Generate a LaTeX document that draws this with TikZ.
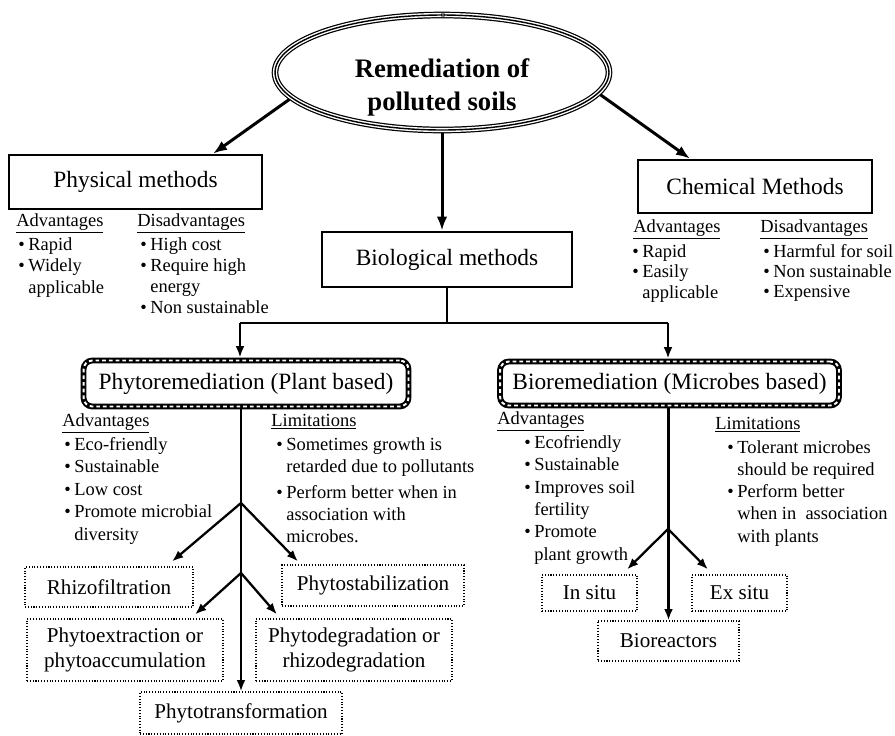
\documentclass[tikz,border=0pt]{standalone}
\usepackage{fontspec}
\setmainfont{Liberation Serif}
\usepackage{tikz}
\usetikzlibrary{
  calc,             % shifted anchors
  shapes.geometric, % the ellipse of the title
  arrows.meta
}
\newcommand{\bul}{\makebox[5.7pt][l]{\textbullet}}
\newcommand{\cnt}{\hspace*{5.7pt}}

\begin{document}
\begin{tikzpicture}[x=0.02cm, y=-0.02cm,
    mainbox/.style={draw, line width=1.5pt, inner sep=0pt, font=\fontsize{13.3}{16}\selectfont},
    subbox/.style={draw, line width=3.3pt, rounded corners=5pt, inner sep=0pt,
      font=\fontsize{13.3}{16}\selectfont,
      postaction={draw=white, line width=1.1pt, dash pattern=on 2.1pt off 1.7pt}},
    leafbox/.style={draw, densely dotted, line width=0.6pt, inner sep=0pt, align=center,
      font=\fontsize{12}{14.2}\selectfont},
    head/.style={anchor=base west, inner sep=0pt, font=\fontsize{10.5}{12.6}\selectfont},
    items/.style={anchor=north west, inner sep=0pt, align=left, font=\fontsize{10.5}{#1}\selectfont},
    items/.default=12.6pt,
    bigarrow/.style={-{Latex[length=8pt,width=6pt]}, line width=1.7pt},
    forkarrow/.style={-{Latex[length=6.5pt,width=5pt]}, line width=1.3pt},
    stem/.style={-{Latex[length=6.5pt,width=5pt]}, line width=1.6pt},
    link/.style={line width=1.3pt}
  ]
  \useasboundingbox (0,0) rectangle (895,735);

  % title
  \node[ellipse, draw, line width=3.8pt, minimum width=6.68cm, minimum height=2.3cm, inner sep=0pt,
    postaction={draw=white, line width=2.4pt}, postaction={draw=black, line width=0.8pt}] (title) at (442,72.5) {};
  \node[inner sep=0pt, font=\fontsize{5}{5}\selectfont] (mark) at (443,15) {o};
  \node[align=center, inner sep=0pt, font=\bfseries\fontsize{15.2}{18.8}\selectfont] (titletext) at (442,87) {Remediation of\\polluted soils};

  % the three methods
  \node[mainbox, minimum width=5.06cm, minimum height=1.08cm] (phys) at (135.5,182) {Physical methods};
  \node[mainbox, minimum width=4.68cm, minimum height=1.06cm] (chem) at (755,186.5) {Chemical Methods};
  \node[mainbox, minimum width=5cm, minimum height=1.1cm] (bio) at (447,259.5) {Biological methods};

  \draw[bigarrow] (title.190) -- ([xshift=1.55cm]phys.north);
  \draw[bigarrow] (title.352) -- ([xshift=-1.3cm]chem.north);
  \draw[bigarrow] (title.south) -- (title.south |- bio.north);

  \node[head] (physadv) at (16,226) {\underline{Advantages}};
  \node[items=12.2pt] (physadvl) at (18,237) {\bul Rapid\\\bul Widely\\\cnt applicable};
  \node[head] (physdis) at (137,226) {\underline{Disadvantages}};
  \node[items=12pt] (physdisl) at (140,237) {\bul High cost\\\bul Require high\\\cnt energy\\\bul Non sustainable};

  \node[head] (chemadv) at (633,232) {\underline{Advantages}};
  \node[items=11.7pt] (chemadvl) at (632,244) {\bul Rapid\\\bul Easily\\\cnt applicable};
  \node[head] (chemdis) at (760,232) {\underline{Disadvantages}};
  \node[items=11.5pt] (chemdisl) at (763,244) {\bul Harmful for soil\\\bul Non sustainable\\\bul Expensive};

  % biological split
  \coordinate (split) at (447,323);
  \coordinate (splitL) at (240,323);
  \coordinate (splitR) at (668,323);
  \draw[link] (bio.south) -- (split);
  \draw[link] (splitL) -- (splitR);

  \node[subbox, minimum width=6.5cm, minimum height=0.92cm] (phyto) at (246,383.5) {Phytoremediation (Plant based)};
  \node[subbox, minimum width=6.78cm, minimum height=0.88cm] (biorem) at (669.5,383.5) {Bioremediation (Microbes based)};
  \draw[forkarrow] (splitL) -- (splitL |- phyto.north);
  \draw[forkarrow] (splitR) -- (splitR |- biorem.north);

  \node[head] (phyadv) at (62,426) {\underline{Advantages}};
  \node[items=12.8pt] (phyadvl) at (64,437) {\bul Eco-friendly\\\bul Sustainable\\\bul Low cost\\\bul Promote microbial\\\cnt diversity};
  \node[head] (phylim) at (271,426) {\underline{Limitations}};
  \node[items=12.5pt] (phyliml) at (276,437) {\bul Sometimes growth is\\\cnt retarded due to pollutants\\[2.3pt]\bul Perform better when in\\\cnt association with\\\cnt microbes.};

  \node[head] (micadv) at (497,424) {\underline{Advantages}};
  \node[items=12.75pt] (micadvl) at (524,435) {\bul Ecofriendly\\\bul Sustainable\\\bul Improves soil\\\cnt fertility\\\bul Promote\\\cnt plant growth};
  \node[head] (miclim) at (715,429) {\underline{Limitations}};
  \node[items=12.65pt] (micliml) at (727,440) {\bul Tolerant microbes\\\cnt should be required\\\bul Perform better\\\cnt when in~ association\\\cnt with plants};

  % plant based techniques
  \node[leafbox, minimum width=3.36cm, minimum height=0.8cm] (rhizo) at (109,587) {Rhizofiltration};
  \node[leafbox, minimum width=3.64cm, minimum height=0.82cm] (stab) at (373,585.5) {Phytostabilization};
  \node[leafbox, minimum width=3.92cm, minimum height=1.24cm] (extr) at (125,650) {Phytoextraction or\\phytoaccumulation};
  \node[leafbox, minimum width=3.92cm, minimum height=1.24cm] (degr) at (354,650) {Phytodegradation or\\rhizodegradation};
  \node[leafbox, minimum width=4.04cm, minimum height=0.84cm] (trans) at (241,713) {Phytotransformation};

  \coordinate (phfork1) at (241,503);
  \coordinate (phfork2) at (241,573);
  \draw[stem] (phyto.south -| trans.north) -- (trans.north);
  \draw[forkarrow] (phfork1) -- ([xshift=1.26cm, yshift=0.1cm]rhizo.north);
  \draw[forkarrow] (phfork1) -- ([xshift=-1.5cm, yshift=0.06cm]stab.north);
  \draw[forkarrow] (phfork2) -- ([xshift=1.4cm, yshift=0.08cm]extr.north);
  \draw[forkarrow] (phfork2) -- ([xshift=-1.54cm, yshift=0.08cm]degr.north);

  % microbe based techniques
  \node[leafbox, minimum width=1.9cm, minimum height=0.72cm] (insitu) at (589.5,593) {In situ};
  \node[leafbox, minimum width=1.9cm, minimum height=0.72cm] (exsitu) at (739.5,593) {Ex situ};
  \node[leafbox, minimum width=2.82cm, minimum height=0.8cm] (reactor) at (668.5,641) {Bioreactors};

  \coordinate (micfork) at (668,529);
  \draw[stem] (biorem.south -| reactor.north) -- (reactor.north);
  \draw[forkarrow] (micfork) -- ([xshift=0.75cm, yshift=0.1cm]insitu.north);
  \draw[forkarrow] (micfork) -- ([xshift=-0.63cm, yshift=0.1cm]exsitu.north);
\end{tikzpicture}
\end{document}
